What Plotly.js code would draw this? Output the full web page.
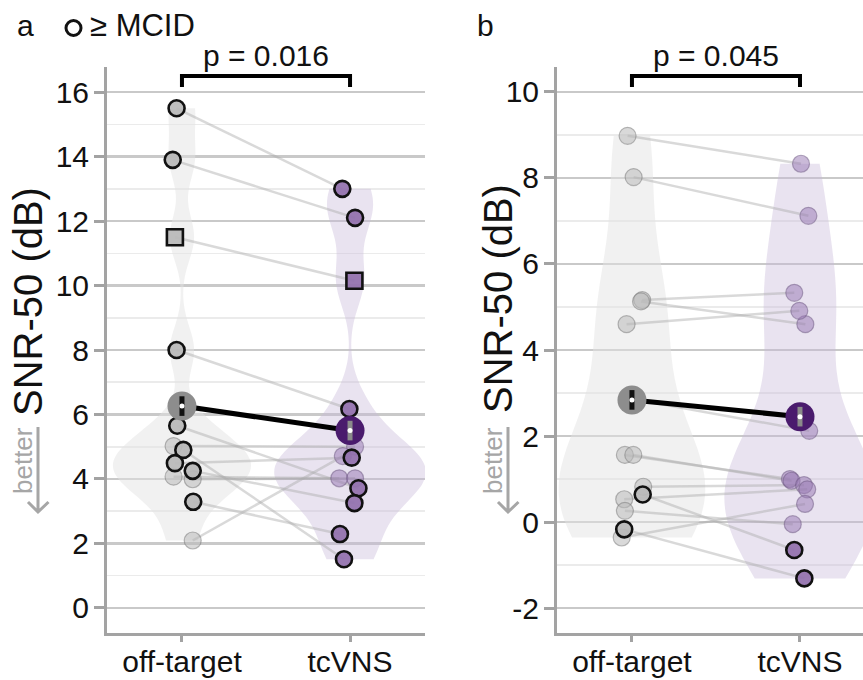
<!DOCTYPE html>
<html>
<head>
<meta charset="utf-8">
<script src="https://cdn.plot.ly/plotly-3.0.1.min.js"></script>
<style>html,body{margin:0;padding:0;background:#fff;}#chart{width:863px;height:680px;}</style>
</head>
<body>
<div id="chart"></div>
<script>
// ---------------- data ----------------
const categories = ['off-target', 'tcVNS'];

// panel a : one entry per subject (off-target -> tcVNS)
const aOff  = [15.5, 13.9, 11.5, 8.0, 5.65, 4.90, 4.49, 4.25, 3.29, 5.02, 4.07, 3.99, 2.09];
const aTc   = [13.0, 12.1, 10.15, 6.17, 3.71, 1.51, 4.66, 3.25, 2.29, 5.00, 4.02, 4.02, 4.71];
const aMcid = [1, 1, 1, 1, 1, 1, 1, 1, 1, 0, 0, 0, 0];
const aSquare = [0, 0, 1, 0, 0, 0, 0, 0, 0, 0, 0, 0, 0];
const aMean = [6.26, 5.50];

// panel b
const bOff  = [8.98, 8.02, 5.16, 5.13, 4.60, 2.88, 1.56, 1.56, 0.82, 0.64, 0.53, 0.26, -0.17, -0.36];
const bTc   = [8.33, 7.12, 5.33, 4.60, 4.91, 2.12, 1.00, 0.96, 0.86, -0.65, 0.76, -0.05, -1.31, 0.42];
const bMcid = [0, 0, 0, 0, 0, 0, 0, 0, 0, 1, 0, 0, 1, 0];
const bSquare = [0, 0, 0, 0, 0, 0, 0, 0, 0, 0, 0, 0, 0, 0];
const bMean = [2.84, 2.45];

const aTickVals = [0, 2, 4, 6, 8, 10, 12, 14, 16];
const aTickText = ['0', '2', '4', '6', '8', '10', '12', '14', '16'];
const bTickVals = [-2, 0, 2, 4, 6, 8, 10];
const bTickText = ['-2', '0', '2', '4', '6', '8', '10'];
const pLabels = ['p = 0.016', 'p = 0.045'];
const yTitle = 'SNR-50 (dB)';
const legendText = '\u2265 MCID';

// ---------------- styling (horizontal jitter of points, in category units) ----------------
const aJitOff = [-0.032, -0.055, -0.042, -0.032, -0.028, 0.008, -0.042, 0.064, 0.067, -0.05, -0.05, 0.064, 0.064];
const aJitTc  = [-0.046, 0.03, 0.026, -0.004, 0.05, -0.036, 0.01, 0.026, -0.06, 0.03, -0.064, 0.03, -0.043];
const bJitOff = [-0.026, 0.01, 0.061, 0.054, -0.032, -0.022, -0.042, 0.008, 0.067, 0.064, -0.046, -0.042, -0.046, -0.061];
const bJitTc  = [0.006, 0.05, -0.034, 0.032, -0.004, 0.055, -0.06, -0.05, 0.024, -0.034, 0.043, -0.043, 0.026, 0.03];

const W = 863, H = 680;
const px = v => v / W;
const py = v => 1 - v / H;
const FONT = 'Liberation Sans, Arial, Helvetica, sans-serif';
const FS = 30;

const GRAY_PT = 'rgba(185,185,185,0.92)';
const PURP_PT = 'rgba(145,112,172,0.92)';
const GRAY_FAINT = 'rgba(185,185,185,0.55)';
const PURP_FAINT = 'rgba(150,118,178,0.5)';

function panelTraces(off, tc, mcid, square, jitOff, jitTc, mean, xa, ya, bw) {
  const t = [];
  t.push({type: 'violin', x0: 0, y: off, xaxis: xa, yaxis: ya, name: categories[0],
    fillcolor: 'rgba(225,225,225,0.48)', line: {width: 0, color: 'rgba(0,0,0,0)'},
    points: false, spanmode: 'hard', bandwidth: bw[0], width: bw[2], scalemode: 'width',
    box: {visible: false}, meanline: {visible: false}, hoverinfo: 'skip'});
  t.push({type: 'violin', x0: 1, y: tc, xaxis: xa, yaxis: ya, name: categories[1],
    fillcolor: 'rgba(200,185,218,0.4)', line: {width: 0, color: 'rgba(0,0,0,0)'},
    points: false, spanmode: 'hard', bandwidth: bw[1], width: bw[3], scalemode: 'width',
    box: {visible: false}, meanline: {visible: false}, hoverinfo: 'skip'});
  // subject lines
  const lx = [], ly = [];
  for (let i = 0; i < off.length; i++) {
    lx.push(0 + jitOff[i], 1 + jitTc[i], null);
    ly.push(off[i], tc[i], null);
  }
  t.push({type: 'scatter', mode: 'lines', x: lx, y: ly, xaxis: xa, yaxis: ya,
    line: {color: 'rgba(170,170,170,0.45)', width: 2.5}, hoverinfo: 'skip'});
  // points: faint first, then MCID
  [0, 1].forEach(flag => {
    const x = [], y = [], col = [], sym = [], lc = [];
    for (let i = 0; i < off.length; i++) {
      if (mcid[i] !== flag) continue;
      x.push(0 + jitOff[i]); y.push(off[i]);
      col.push(flag ? GRAY_PT : GRAY_FAINT);
      sym.push(square[i] ? 'square' : 'circle');
      lc.push(flag ? '#111' : 'rgba(120,120,120,0.5)');
      x.push(1 + jitTc[i]); y.push(tc[i]);
      col.push(flag ? PURP_PT : PURP_FAINT);
      sym.push(square[i] ? 'square' : 'circle');
      lc.push(flag ? '#111' : 'rgba(110,90,130,0.5)');
    }
    t.push({type: 'scatter', mode: 'markers', x: x, y: y, xaxis: xa, yaxis: ya,
      marker: {size: flag ? 16 : 17, color: col, symbol: sym,
        line: {color: lc, width: flag ? 2.6 : 1.2}}, hoverinfo: 'skip'});
  });
  // mean line + mean markers
  t.push({type: 'scatter', mode: 'lines', x: [0, 1], y: mean, xaxis: xa, yaxis: ya,
    line: {color: '#000', width: 5}, hoverinfo: 'skip'});
  t.push({type: 'scatter', mode: 'markers', x: [0, 1], y: mean, xaxis: xa, yaxis: ya,
    marker: {size: 29, color: ['#8d8d8d', '#4a1b6d'], line: {width: 0}}, hoverinfo: 'skip'});
  t.push({type: 'scatter', mode: 'markers', x: [0, 1], y: mean, xaxis: xa, yaxis: ya,
    marker: {size: 14, symbol: 'line-ns', line: {width: 5, color: ['#111', '#8a8a8a']}}, hoverinfo: 'skip'});
  t.push({type: 'scatter', mode: 'markers', x: [0, 1], y: mean, xaxis: xa, yaxis: ya,
    marker: {size: 5, color: '#fff', line: {width: 0}}, hoverinfo: 'skip'});
  return t;
}

const traces = [].concat(
  panelTraces(aOff, aTc, aMcid, aSquare, aJitOff, aJitTc, aMean, 'x', 'y', [0.72, 0.8, 0.82, 0.9]),
  panelTraces(bOff, bTc, bMcid, bSquare, bJitOff, bJitTc, bMean, 'x2', 'y2', [1.5, 1.5, 0.87, 0.9])
);

function oddVals(lo, hi) { const r = []; for (let v = Math.ceil(lo); v <= hi; v++) if (Math.abs(v % 2) === 1) r.push(v); return r; }

const yDomain = [py(633), py(67)];
function yAxis(range, tv, tt, anchor) {
  return {domain: yDomain, range: range, anchor: anchor, tickmode: 'array', tickvals: tv, ticktext: tt,
    showgrid: true, gridcolor: '#c9c9c9', gridwidth: 2.6, zeroline: false,
    showline: true, linecolor: '#a3a3a3', linewidth: 3, ticks: 'outside', ticklen: 10, tickwidth: 3, tickcolor: '#a3a3a3',
    tickfont: {family: FONT, size: FS, color: '#111'}, ticklabelstandoff: -1,
    minor: {tickmode: 'array', tickvals: oddVals(range[0], range[1]), showgrid: true, gridcolor: '#ebebeb', gridwidth: 1.6, ticks: ''},
    fixedrange: true};
}
function xAxis(domain, range, anchor) {
  return {domain: domain, range: range, anchor: anchor, type: 'linear', tickmode: 'array', tickvals: [0, 1], ticktext: categories,
    showgrid: false, zeroline: false, showline: true, linecolor: '#a3a3a3', linewidth: 3,
    ticks: 'outside', ticklen: 6, tickwidth: 3, tickcolor: '#a3a3a3', ticklabelstandoff: -6,
    tickfont: {family: FONT, size: FS, color: '#111'}, fixedrange: true};
}

const shapes = [];
const annotations = [];
// brackets
[['x', 0], ['x2', 1]].forEach(([xr, k]) => {
  shapes.push({type: 'path', xref: xr, yref: 'paper',
    path: `M 0,${py(87)} L 0,${py(76)} L 1,${py(76)} L 1,${py(87)}`,
    line: {color: '#000', width: 4}});
  annotations.push({xref: xr, yref: 'paper', x: 0.5, y: py(55), text: pLabels[k], showarrow: false,
    xanchor: 'center', yanchor: 'middle', font: {family: FONT, size: FS, color: '#111'}});
});
// panel letters
annotations.push({xref: 'paper', yref: 'paper', x: px(25), y: py(26), text: 'a', showarrow: false,
  xanchor: 'center', yanchor: 'middle', font: {family: FONT, size: FS, color: '#111'}});
annotations.push({xref: 'paper', yref: 'paper', x: px(485), y: py(26), text: 'b', showarrow: false,
  xanchor: 'center', yanchor: 'middle', font: {family: FONT, size: FS, color: '#111'}});
// legend
shapes.push({type: 'circle', xref: 'paper', yref: 'paper', x0: px(66), x1: px(81), y0: py(35.5), y1: py(20.5),
  line: {color: '#111', width: 3}, fillcolor: 'rgba(0,0,0,0)'});
annotations.push({xref: 'paper', yref: 'paper', x: px(88), y: py(26), text: legendText, showarrow: false,
  xanchor: 'left', yanchor: 'middle', font: {family: FONT, size: 31, color: '#111'}});
// y titles + "better" arrows
[[0, 302], [470, 298]].forEach(([dx, cy]) => {
  annotations.push({xref: 'paper', yref: 'paper', x: px(28 + dx), y: py(cy), text: yTitle, textangle: -90, showarrow: false,
    xanchor: 'center', yanchor: 'middle', font: {family: FONT, size: 40, color: '#111'}});
  annotations.push({xref: 'paper', yref: 'paper', x: px(23 + dx), y: py(461), text: 'better', textangle: -90, showarrow: false,
    xanchor: 'center', yanchor: 'middle', font: {family: FONT, size: 26, color: '#a6a6a6'}});
  shapes.push({type: 'path', xref: 'paper', yref: 'paper',
    path: `M ${px(38 + dx)},${py(427)} L ${px(38 + dx)},${py(512)} M ${px(28 + dx)},${py(502)} L ${px(38 + dx)},${py(512)} L ${px(48.5 + dx)},${py(502)}`,
    line: {color: '#a6a6a6', width: 3}});
});

const layout = {
  width: W, height: H, margin: {l: 0, r: 0, t: 0, b: 0}, showlegend: false,
  paper_bgcolor: '#fff', plot_bgcolor: '#fff',
  xaxis: xAxis([px(107), px(425)], [-0.446, 1.446], 'y'),
  yaxis: yAxis([-0.78, 16.78], aTickVals, aTickText, 'x'),
  xaxis2: xAxis([px(557), 1], [-0.446, 1.375], 'y2'),
  yaxis2: yAxis([-2.58, 10.58], bTickVals, bTickText, 'x2'),
  shapes: shapes, annotations: annotations
};

Plotly.newPlot('chart', traces, layout, {staticPlot: true, displayModeBar: false});
</script>
</body>
</html>
